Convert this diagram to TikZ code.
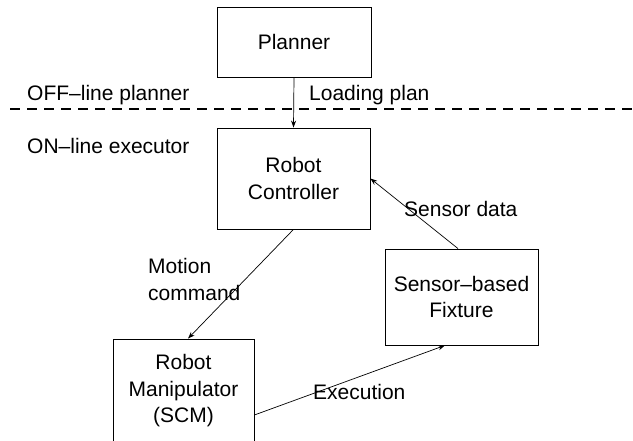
\documentclass[tikz,border=0pt]{standalone}
\usepackage{fontspec}
\setmainfont{Liberation Sans}
\usetikzlibrary{calc,arrows.meta}
\begin{document}
\begin{tikzpicture}[x=1pt,y=-1pt,
  every node/.style={font=\fontsize{21}{26.5}\selectfont},
  blk/.style={draw=black,line width=0.8pt,inner sep=0pt,align=center},
  lbl/.style={inner sep=0pt,anchor=west,align=left},
  conn/.style={draw=black,line width=0.7pt,-{Stealth[length=7pt,width=5pt]}},
  sep/.style={draw=black,line width=1.5pt,dash pattern=on 10pt off 7pt}]
\useasboundingbox[fill=white] (0,0) rectangle (633,441);
\node[blk,minimum width=154pt,minimum height=70pt] (plan) at (294,42) {Planner};
\node[blk,minimum width=153pt,minimum height=101pt] (ctrl) at (293.5,178.5) {Robot\\Controller};
\node[blk,minimum width=153pt,minimum height=96pt] (fix) at (461.5,297) {Sensor–based\\Fixture};
\node[blk,minimum width=141pt,minimum height=104pt] (manip) at (183.5,391) {Robot\\Manipulator\\(SCM)};
\coordinate (dl) at (10,109);
\coordinate (dr) at (633,109);
\draw[sep] (dl) -- (dr);
\node[lbl] (off) at (27,95) {OFF–line planner};
\node[lbl] (on) at (27,146) {ON–line executor};
\node[lbl] (load) at (309,95) {Loading plan};
\node[lbl] (mot) at (148,279.5) {Motion\\command};
\node[lbl] (sd) at (404,209) {Sensor data};
\node[lbl] (ex) at (313,392) {Execution};
\draw[conn] (plan.south) -- (ctrl.north);
\draw[conn] (ctrl.south) -- ($(manip.north)+(4.5,0)$);
\draw[conn] ($(fix.north)+(-3.5,0)$) -- (ctrl.east);
\draw[conn] ($(manip.east)+(0,24)$) -- ($(fix.south)+(-16.5,0)$);
\end{tikzpicture}
\end{document}
